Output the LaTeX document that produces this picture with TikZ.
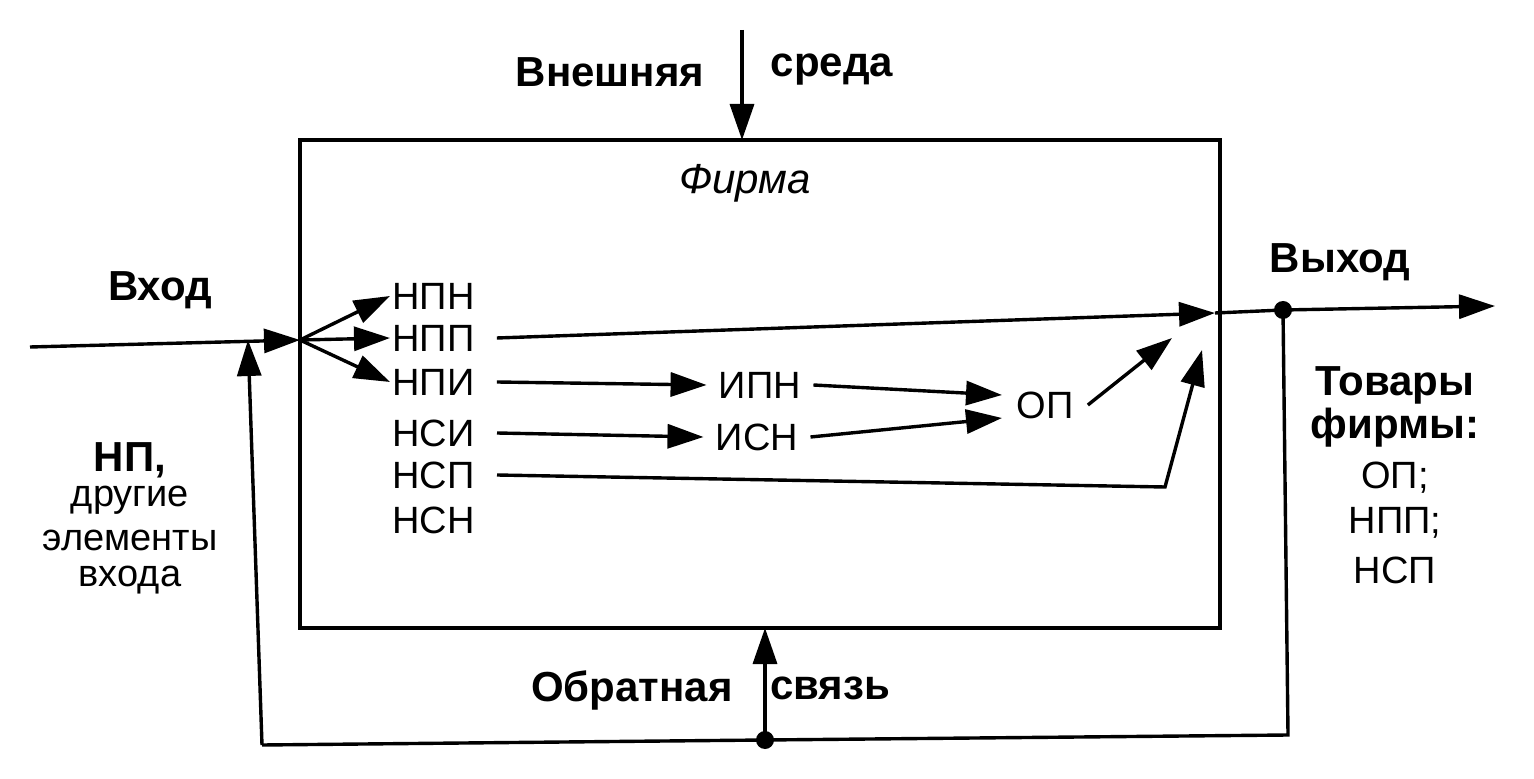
\documentclass[tikz,border=0pt]{standalone}
\usepackage{fontspec}
\setmainfont{Liberation Sans}
\usetikzlibrary{arrows.meta}
\begin{document}
\begin{tikzpicture}[x=0.5pt,y=-0.5pt,
  ln/.style={line width=1.7pt},
  ar/.style={ln,-{Triangle[length=18pt,width=12pt]}},
  lbl/.style={font=\fontsize{19}{22}\selectfont,inner sep=1pt},
  blbl/.style={font=\fontsize{21}{24}\selectfont\bfseries,inner sep=1pt},
  dot/.style={circle,fill=black,inner sep=0pt,minimum size=9pt}]
\useasboundingbox (0,0) rectangle (1534,779);
% firm box
\draw[ln] (300,140) rectangle (1220,628);
\node[lbl,font=\fontsize{21}{24}\selectfont\itshape] (firma) at (745,183) {Фирма};
% environment
\coordinate (envtop) at (742,30);
\coordinate (envbot) at (742,140);
\draw[ar] (envtop) -- (envbot);
\node[blbl] (vn) at (610,72) {Внешняя};
\node[blbl] (sr) at (832,70) {среда};
% input
\coordinate (inL) at (30,347);
\coordinate (hub) at (300,340);
\draw[ar] (inL) -- (hub);
\node[blbl] (vhod) at (160,290) {Вход};
% labels inside
\node[lbl,anchor=west] (npn) at (390,296) {НПН};
\node[lbl,anchor=west] (npp) at (390,338) {НПП};
\node[lbl,anchor=west] (npi) at (390,382) {НПИ};
\node[lbl,anchor=west] (nsi) at (390,433) {НСИ};
\node[lbl,anchor=west] (nsp) at (390,475) {НСП};
\node[lbl,anchor=west] (nsn) at (390,520) {НСН};
\draw[ar] (hub) -- (npn.west);
\draw[ar] (hub) -- (npp.west);
\draw[ar] (hub) -- (npi.west);
\node[lbl] (ipn) at (760,385) {ИПН};
\node[lbl] (isn) at (757,437) {ИСН};
\node[lbl] (op) at (1045,405) {ОП};
% output
\coordinate (outIn) at (1215,313);
\coordinate (outR) at (1495,306);
\node[dot] (d1) at (1283,310) {};
\draw[ln] (outIn) -- (d1.center);
\draw[ar] (d1.center) -- (outR);
\node[blbl] (vyhod) at (1340,262) {Выход};
% internal flows
\draw[ar] ([xshift=10pt]npp.east) -- (outIn);
\draw[ar] ([xshift=10pt]npi.east) -- ([xshift=-5pt]ipn.west);
\draw[ar] ([xshift=10pt]nsi.east) -- ([xshift=-5pt]isn.west);
\draw[ar] ([xshift=5pt]ipn.east) -- (1002,395);
\draw[ar] ([xshift=5pt]isn.east) -- (1002,418);
\coordinate (opend) at (1172,338);
\draw[ar] ([xshift=6pt]op.east) -- (opend);
\coordinate (nspbend) at (1165,487);
\coordinate (nspend) at (1202,350);
\draw[ar] ([xshift=10pt]nsp.east) -- (nspbend) -- (nspend);
% feedback
\node[dot] (d2) at (765,740) {};
\coordinate (fbBL) at (262,745);
\coordinate (fbBR) at (1288,735);
\coordinate (fbIn) at (248,340);
\draw[ln] (d1.center) -- (fbBR) -- (d2.center) -- (fbBL);
\draw[ar] (fbBL) -- (fbIn);
\draw[ar] (d2.center) -- (765,628);
\node[blbl] (obr) at (632,690) {Обратная};
\node[blbl] (sv) at (830,688) {связь};
% left texts
\node[blbl] (np) at (130,460) {НП,};
\node[lbl] (dr) at (130,500) {другие};
\node[lbl] (el) at (130,540) {элементы};
\node[lbl] (vh) at (130,580) {входа};
% right texts
\node[blbl] (tov) at (1395,385) {Товары};
\node[blbl] (firm) at (1395,428) {фирмы:};
\node[lbl] (r1) at (1395,478) {ОП;};
\node[lbl] (r2) at (1395,523) {НПП;};
\node[lbl] (r3) at (1395,570) {НСП};
\end{tikzpicture}
\end{document}
